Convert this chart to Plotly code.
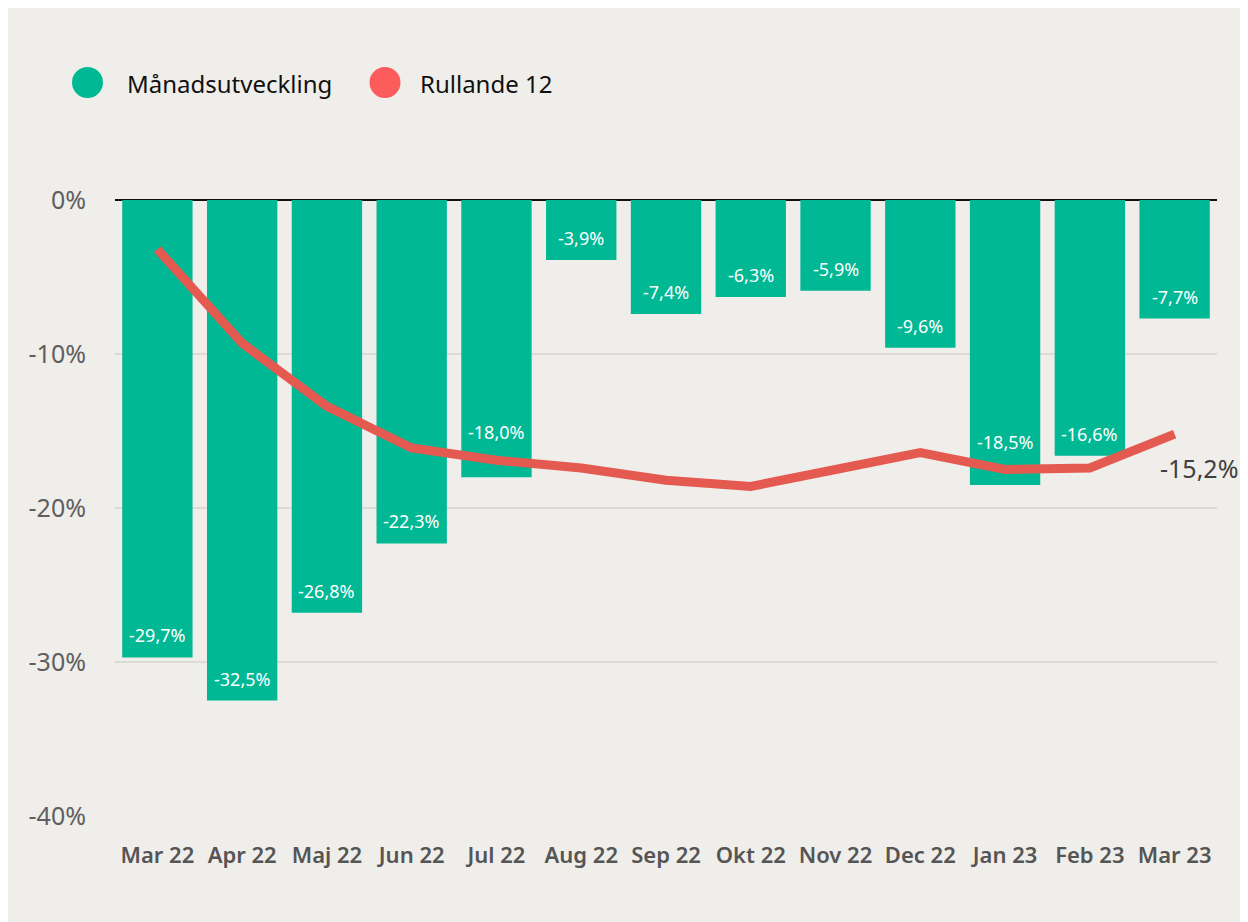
import plotly.graph_objects as go

categories = ["Mar 22", "Apr 22", "Maj 22", "Jun 22", "Jul 22", "Aug 22", "Sep 22",
              "Okt 22", "Nov 22", "Dec 22", "Jan 23", "Feb 23", "Mar 23"]
manads = [-29.7, -32.5, -26.8, -22.3, -18.0, -3.9, -7.4, -6.3, -5.9, -9.6, -18.5, -16.6, -7.7]
rullande = [-3.2, -9.3, -13.4, -16.1, -16.9, -17.4, -18.2, -18.6, -17.5, -16.4, -17.5, -17.4, -15.2]
y_ticks = [0, -10, -20, -30, -40]
y_tick_text = ["0%", "-10%", "-20%", "-30%", "-40%"]
legend_names = ["Månadsutveckling", "Rullande 12"]

BAR = "#00b894"
LINE = "#e55a50"
LEG_RED = "#fd5c5c"
BG = "#f0eeea"
FONT = "Noto Sans, Open Sans, sans-serif"

# page body offset of 8px
OFF = 8
FW, FH = 1240, 914
L, R_, T, B = 107, 31, 192, 106
W, H = FW - L - R_, FH - T - B
Y_MIN, Y_MAX = -40, 0
PX_PER_UNIT = H / (Y_MAX - Y_MIN)


def fmt(v):
    return f"{v:.1f}".replace(".", ",") + "%"


def px_x(p):
    return (p - OFF - L) / W


def px_y(p):
    return (OFF + FH - B - p) / H


fig = go.Figure()
fig.add_trace(go.Bar(x=categories, y=manads, marker=dict(color=BAR, line=dict(width=0)),
                     showlegend=False, hoverinfo="skip"))
fig.add_trace(go.Scatter(x=categories, y=rullande, mode="lines",
                         line=dict(color=LINE, width=9), showlegend=False, hoverinfo="skip"))

annotations = []
for c, v, r in zip(categories, manads, rullande):
    shift = 22
    # move the label above the line when they would collide
    line_offset = (r - v) * PX_PER_UNIT
    if abs(line_offset - shift) < 20:
        shift = line_offset + 28
    annotations.append(dict(x=c, y=v, text=fmt(v), showarrow=False, yanchor="middle",
                            yshift=shift, font=dict(family=FONT, size=18, color="white")))
annotations.append(dict(x=categories[-1], y=rullande[-1], text=fmt(rullande[-1]), showarrow=False,
                        xanchor="center", yanchor="middle", xshift=24, yshift=-34,
                        font=dict(family=FONT, size=25, color="#404040")))

shapes = [dict(type="rect", xref="paper", yref="paper", x0=px_x(6), x1=px_x(1245),
               y0=px_y(920), y1=px_y(3), fillcolor=BG, line=dict(width=0), layer="below")]
leg_items = [(87.5, 125, BAR, legend_names[0]), (385, 418, LEG_RED, legend_names[1])]
for cx, tx, col, name in leg_items:
    shapes.append(dict(type="circle", xref="paper", yref="paper", xsizemode="pixel", ysizemode="pixel",
                       xanchor=px_x(cx), yanchor=px_y(82.5), x0=-15.5, x1=15.5, y0=-15.5, y1=15.5,
                       fillcolor=col, line=dict(width=0)))
    annotations.append(dict(xref="paper", yref="paper", x=px_x(tx), y=px_y(83), text=name,
                            showarrow=False, xanchor="left", yanchor="middle",
                            font=dict(family=FONT, size=24, color="#111111")))

fig.update_layout(
    width=FW, height=FH,
    margin=dict(l=L, r=R_, t=T, b=B, pad=0),
    paper_bgcolor=BG, plot_bgcolor="rgba(0,0,0,0)",
    bargap=0.17,
    shapes=shapes, annotations=annotations,
    showlegend=False,
    xaxis=dict(range=[-0.5, len(categories) - 0.5], showgrid=False, showline=False, ticks="",
               ticklabelstandoff=24,
               tickfont=dict(family=FONT, size=22, color="#555555", weight=600), fixedrange=True),
    yaxis=dict(range=[Y_MIN, Y_MAX], tickvals=y_ticks, ticktext=y_tick_text, showgrid=True,
               gridcolor="#dcdbd7", gridwidth=2, zeroline=True, zerolinecolor="#111111",
               zerolinewidth=2, showline=False, ticks="", ticklabelstandoff=28,
               tickfont=dict(family=FONT, size=25, color="#5f5f5f"), fixedrange=True),
)

fig.write_html("out.html")
